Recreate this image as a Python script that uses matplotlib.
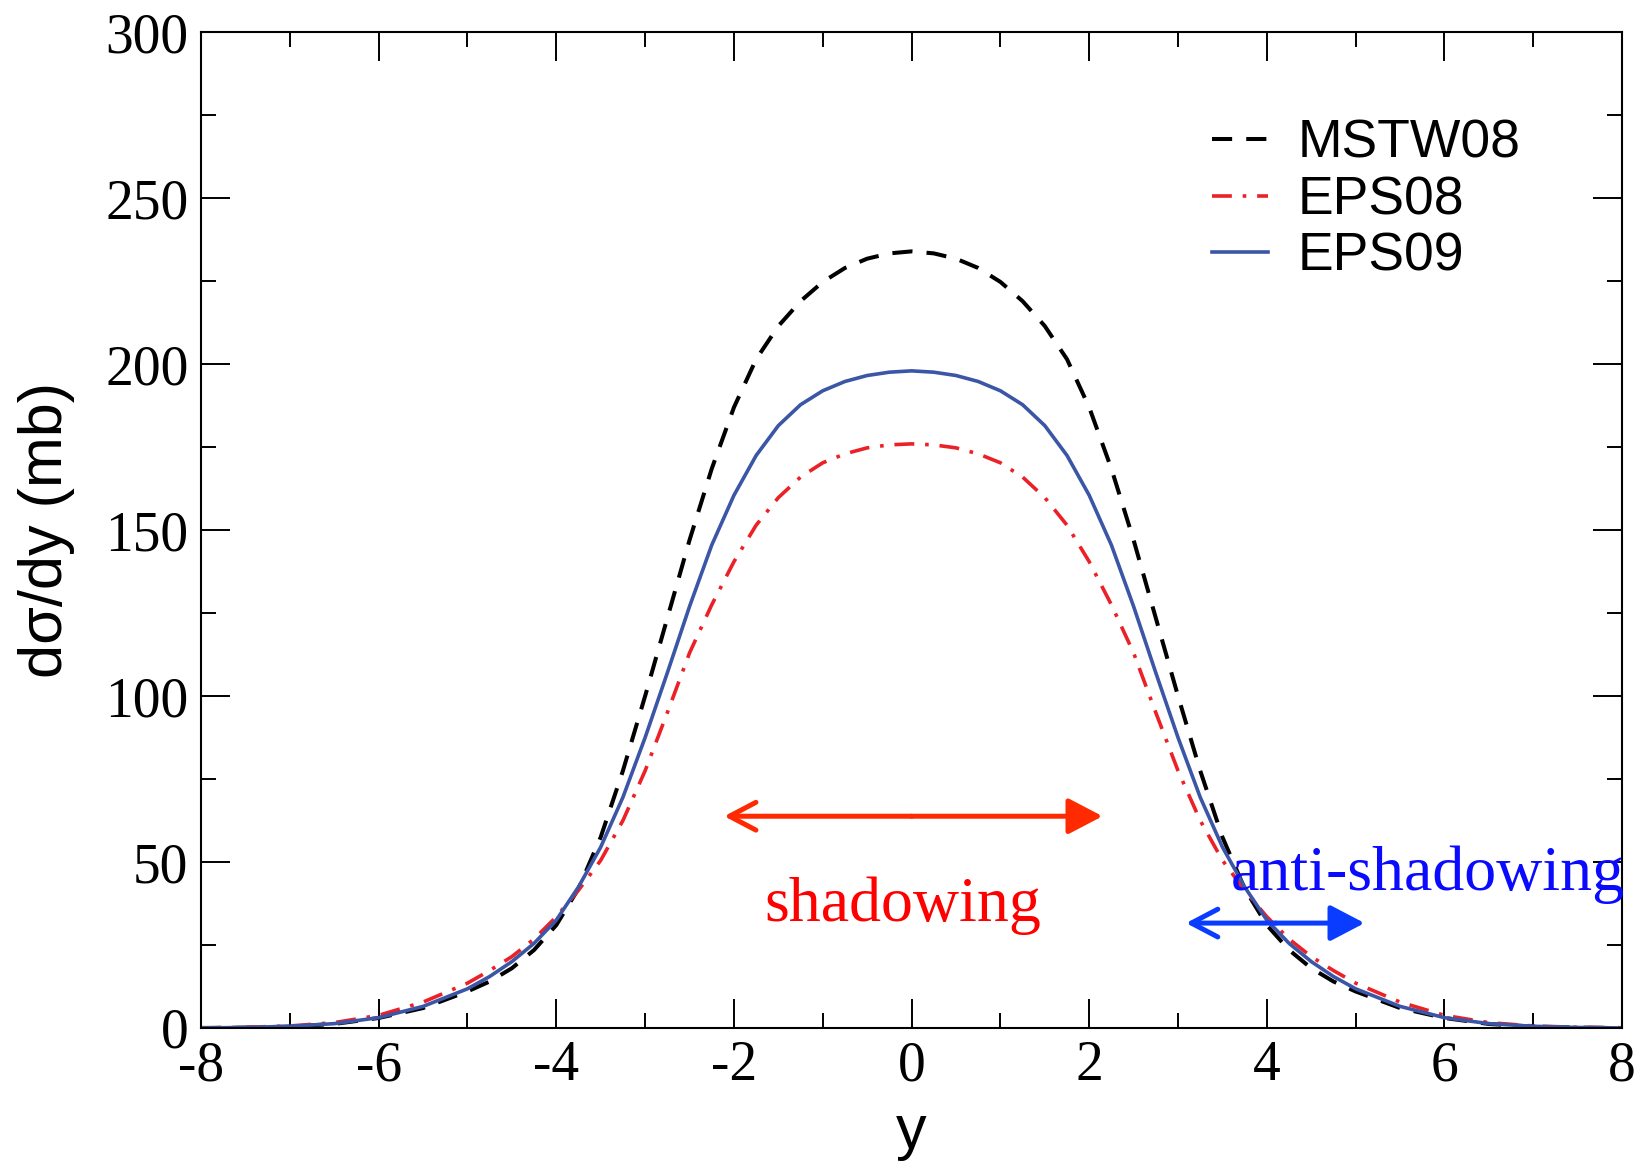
import numpy as np
import matplotlib
matplotlib.use("Agg")
import matplotlib.pyplot as plt
from matplotlib.ticker import MultipleLocator

plt.rcParams["axes.unicode_minus"] = False

# rapidity grid (positive half, curves are symmetric in y)
y_half = [0.0, 0.25, 0.5, 0.75, 1.0, 1.25, 1.5, 1.75, 2.0, 2.25, 2.5, 2.75,
          3.0, 3.25, 3.5, 3.75, 4.0, 4.25, 4.5, 4.75, 5.0, 5.5, 6.0, 6.5,
          7.0, 7.5, 8.0]

# dsigma/dy (mb)
mstw08_half = [234.0, 233.4, 231.8, 229.0, 224.8, 219.0, 211.5, 201.5, 187.0,
               168.5, 147.0, 123.5, 100.0, 77.5, 57.5, 42.0, 31.0, 23.5, 18.0,
               14.0, 11.0, 6.0, 3.0, 1.2, 0.4, 0.1, 0.0]
eps08_half = [176.0, 175.7, 174.8, 173.0, 170.3, 166.0, 159.8, 151.5, 140.5,
              127.5, 113.0, 95.0, 77.5, 62.5, 50.5, 41.5, 33.5, 26.8, 21.5,
              17.3, 13.5, 7.8, 3.8, 1.6, 0.6, 0.2, 0.0]
eps09_half = [198.0, 197.6, 196.6, 194.8, 192.0, 187.8, 181.5, 172.5, 160.5,
              145.5, 127.0, 107.0, 87.5, 69.5, 54.5, 42.5, 32.5, 25.5, 20.0,
              15.5, 11.8, 6.5, 3.1, 1.3, 0.5, 0.15, 0.0]

series_names = ["MSTW08", "EPS08", "EPS09"]


def mirror(half):
    """build the full symmetric curve from the positive half"""
    h = np.array(half)
    return np.concatenate([h[:0:-1], h])


y = np.concatenate([-np.array(y_half)[:0:-1], np.array(y_half)])
mstw08 = mirror(mstw08_half)
eps08 = mirror(eps08_half)
eps09 = mirror(eps09_half)

fig = plt.figure(figsize=(16.41, 11.68), dpi=100)
ax = fig.add_axes([0.1225, 0.1199, 0.866, 0.8524])

ax.plot(y, mstw08, color="black", lw=2.9, dashes=(5, 3.5), label=series_names[0])
ax.plot(y, eps08, color="#ec2127", lw=2.6, dashes=(5.5, 3, 1, 3), label=series_names[1])
ax.plot(y, eps09, color="#3b56a6", lw=2.6, label=series_names[2])

ax.set_xlim(-8, 8)
ax.set_ylim(0, 300)
ax.xaxis.set_major_locator(MultipleLocator(2))
ax.xaxis.set_minor_locator(MultipleLocator(1))
ax.yaxis.set_major_locator(MultipleLocator(50))
ax.yaxis.set_minor_locator(MultipleLocator(25))
ax.tick_params(which="both", direction="in", top=True, right=True, width=1.4,
               labelsize=40, pad=9)
ax.tick_params(which="major", length=21)
ax.tick_params(which="minor", length=10.5)
for lab in ax.get_xticklabels() + ax.get_yticklabels():
    lab.set_family("Liberation Serif")
for s in ax.spines.values():
    s.set_linewidth(1.5)

ax.set_xlabel("y", family="Liberation Sans", fontsize=44, labelpad=8)
ax.set_ylabel("dσ/dy (mb)", family="Liberation Sans", fontsize=44, labelpad=22)

leg = ax.legend(loc="upper left", bbox_to_anchor=(0.7115, 0.913), frameon=False,
                prop={"family": "Liberation Sans", "size": 38.5},
                handlelength=1.05, handletextpad=0.55, labelspacing=0.12,
                borderpad=0, borderaxespad=0)

# shadowing / anti-shadowing annotations
ax.annotate("", xy=(-2.11, 63.8), xytext=(0.0, 63.8),
            arrowprops=dict(arrowstyle="->,head_length=19,head_width=10",
                            color="#ff2a00", lw=3.6, shrinkA=0, shrinkB=0,
                            mutation_scale=1))
ax.annotate("", xy=(2.15, 63.8), xytext=(0.0, 63.8),
            arrowprops=dict(arrowstyle="-|>,head_length=21,head_width=11",
                            color="#ff2a00", lw=3.6, shrinkA=0, shrinkB=0,
                            mutation_scale=1))
ax.annotate("", xy=(3.09, 31.6), xytext=(4.1, 31.6),
            arrowprops=dict(arrowstyle="->,head_length=19,head_width=10",
                            color="#0a3cff", lw=3.6, shrinkA=0, shrinkB=0,
                            mutation_scale=1))
ax.annotate("", xy=(5.10, 31.6), xytext=(4.1, 31.6),
            arrowprops=dict(arrowstyle="-|>,head_length=21,head_width=11",
                            color="#0a3cff", lw=3.6, shrinkA=0, shrinkB=0,
                            mutation_scale=1))
ax.text(-0.1, 32.2, "shadowing", color="#ff0000", family="Liberation Serif",
        fontsize=46, ha="center", va="baseline")
ax.text(3.59, 41.7, "anti-shadowing", color="#0a0aff", family="Liberation Serif",
        fontsize=46, ha="left", va="baseline", clip_on=False)

fig.savefig("out.png", dpi=100, facecolor="white")
